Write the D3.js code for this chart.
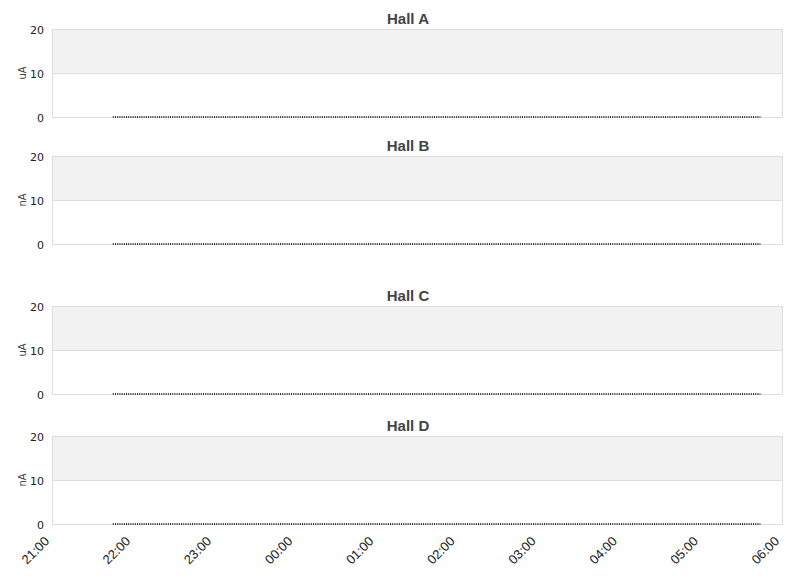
<!DOCTYPE html>
<html>
<head>
<meta charset="utf-8">
<script src="https://cdn.jsdelivr.net/npm/d3@7"></script>
<style>
  body { margin: 0; background: #fff; }
  svg { font-family: "DejaVu Sans", sans-serif; }
</style>
</head>
<body>
<div id="vis-container"></div>
<script>
// panels
var halls = ["Hall A", "Hall B", "Hall C", "Hall D"];
var units = ["uA", "nA", "uA", "nA"];
var panelTops = [29, 156, 306, 436];

// y ticks
var yTicks = [0, 10, 20];

// x ticks
var xTickLabels = ["21:00", "22:00", "23:00", "00:00", "01:00", "02:00", "03:00", "04:00", "05:00", "06:00"];

// readings (all halls at zero from ~21:45 to ~05:44)
var readingTimes = ["2000-01-01 21:45", "2000-01-02 05:44"];
var hallA = [0, 0];
var hallB = [0, 0];
var hallC = [0, 0];
var hallD = [0, 0];
var series = [hallA, hallB, hallC, hallD];

var width = 811, height = 578;
var left = 52, right = 782;
var plotheight = 88;

var parse = d3.timeParse("%Y-%m-%d %H:%M");
var xscale = d3.scaleTime()
	.domain([parse("2000-01-01 21:00"), parse("2000-01-02 06:00")])
	.range([left, right]);
var tickDates = xTickLabels.map(function(d, i) {
	return d3.timeHour.offset(parse("2000-01-01 21:00"), i);
});

var svg = d3.select("#vis-container")
	.append("svg")
	.attr("width", width)
	.attr("height", height);

halls.forEach(function(name, i) {
	var top = panelTops[i];
	var yscale = d3.scaleLinear().domain([0, 20]).range([top + plotheight, top]);
	var g = svg.append("g");

	// shaded band 10..20
	g.append("rect")
		.attr("x", left)
		.attr("y", yscale(20))
		.attr("width", right - left)
		.attr("height", yscale(10) - yscale(20))
		.attr("fill", "#f2f2f2");

	// gridlines
	g.selectAll("line.grid")
		.data(yTicks.slice(1))
		.enter()
		.append("line")
		.attr("x1", left).attr("x2", right)
		.attr("y1", function(d) { return yscale(d) + 0.5; })
		.attr("y2", function(d) { return yscale(d) + 0.5; })
		.attr("stroke", "#dddddd");

	// frame (left, right, bottom)
	g.append("path")
		.attr("d", "M" + (left + 0.5) + "," + yscale(20) + "V" + (yscale(0) + 0.5) +
			"H" + (right + 0.5) + "V" + yscale(20))
		.attr("fill", "none")
		.attr("stroke", "#dddddd");

	// y tick labels
	g.selectAll("text.ytick")
		.data(yTicks)
		.enter()
		.append("text")
		.attr("x", 44)
		.attr("y", function(d) { return yscale(d) + 5; })
		.attr("text-anchor", "end")
		.attr("font-size", 11)
		.attr("fill", "#222")
		.text(function(d) { return d; });

	// y axis title
	g.append("text")
		.attr("transform", "translate(26," + (top + plotheight / 2) + ") rotate(-90)")
		.attr("text-anchor", "middle")
		.attr("font-size", 10)
		.attr("fill", "#444")
		.text(units[i]);

	// panel title
	g.append("text")
		.attr("x", 408)
		.attr("y", top - 5)
		.attr("text-anchor", "middle")
		.attr("font-family", "'Liberation Sans', Arial, sans-serif")
		.attr("font-size", 15)
		.attr("font-weight", "bold")
		.attr("fill", "#444")
		.text(name);

	// reading line
	var line = d3.line()
		.x(function(d, j) { return xscale(parse(readingTimes[j])); })
		.y(function(d) { return yscale(d); });
	g.append("path")
		.datum(series[i])
		.attr("d", line)
		.attr("fill", "none")
		.attr("stroke", "#333")
		.attr("stroke-width", 2)
		.attr("stroke-dasharray", "1,1.2");
});

// x axis labels under the last panel
var xaxisg = svg.append("g");
xaxisg.selectAll("text")
	.data(tickDates)
	.enter()
	.append("text")
	.attr("transform", function(d) {
		return "translate(" + (xscale(d) - 2) + "," + 542 + ") rotate(-45)";
	})
	.attr("text-anchor", "end")
	.attr("font-family", "'Liberation Sans', Arial, sans-serif")
	.attr("font-size", 13)
	.attr("fill", "#222")
	.text(function(d, i) { return xTickLabels[i]; });
</script>
</body>
</html>
